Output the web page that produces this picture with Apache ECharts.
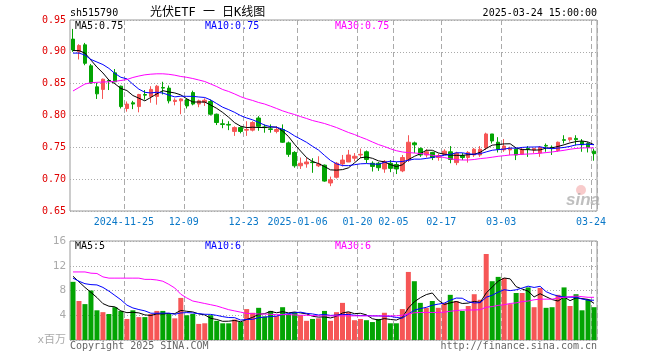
<!DOCTYPE html>
<html><head><meta charset="utf-8">
<script src="https://cdn.jsdelivr.net/npm/echarts@6/dist/echarts.min.js"></script>
<style>html,body{margin:0;padding:0;background:#fff}#c{width:660px;height:360px}</style>
</head><body><div id="c"></div>
<script>
const dates = ['2024-11-12','2024-11-13','2024-11-14','2024-11-15','2024-11-18','2024-11-19','2024-11-20','2024-11-21','2024-11-22','2024-11-25','2024-11-26','2024-11-27','2024-11-28','2024-11-29','2024-12-02','2024-12-03','2024-12-04','2024-12-05','2024-12-06','2024-12-09','2024-12-10','2024-12-11','2024-12-12','2024-12-13','2024-12-16','2024-12-17','2024-12-18','2024-12-19','2024-12-20','2024-12-23','2024-12-24','2024-12-25','2024-12-26','2024-12-27','2024-12-30','2024-12-31','2025-01-02','2025-01-03','2025-01-06','2025-01-07','2025-01-08','2025-01-09','2025-01-10','2025-01-13','2025-01-14','2025-01-15','2025-01-16','2025-01-17','2025-01-20','2025-01-21','2025-01-22','2025-01-23','2025-01-24','2025-01-27','2025-02-05','2025-02-06','2025-02-07','2025-02-10','2025-02-11','2025-02-12','2025-02-13','2025-02-14','2025-02-17','2025-02-18','2025-02-19','2025-02-20','2025-02-21','2025-02-24','2025-02-25','2025-02-26','2025-02-27','2025-02-28','2025-03-03','2025-03-04','2025-03-05','2025-03-06','2025-03-07','2025-03-10','2025-03-11','2025-03-12','2025-03-13','2025-03-14','2025-03-17','2025-03-18','2025-03-19','2025-03-20','2025-03-21','2025-03-24'];
const opens = [0.920,0.900,0.911,0.878,0.845,0.841,0.855,0.867,0.846,0.811,0.820,0.814,0.833,0.830,0.830,0.844,0.843,0.822,0.823,0.825,0.836,0.818,0.821,0.822,0.802,0.787,0.786,0.775,0.781,0.777,0.777,0.796,0.782,0.779,0.775,0.778,0.757,0.742,0.721,0.724,0.727,0.721,0.722,0.694,0.703,0.724,0.727,0.733,0.738,0.743,0.725,0.725,0.716,0.725,0.723,0.713,0.730,0.757,0.748,0.738,0.742,0.734,0.739,0.743,0.726,0.737,0.734,0.738,0.738,0.749,0.771,0.758,0.746,0.746,0.747,0.739,0.748,0.746,0.741,0.753,0.750,0.745,0.762,0.762,0.764,0.759,0.756,0.744];
const closes = [0.903,0.910,0.882,0.851,0.834,0.857,0.854,0.853,0.814,0.818,0.818,0.833,0.832,0.841,0.846,0.843,0.823,0.824,0.826,0.815,0.818,0.823,0.824,0.802,0.789,0.786,0.785,0.781,0.775,0.778,0.789,0.783,0.781,0.778,0.778,0.758,0.739,0.721,0.725,0.727,0.726,0.724,0.697,0.699,0.725,0.730,0.738,0.736,0.739,0.731,0.720,0.718,0.728,0.717,0.716,0.734,0.758,0.754,0.738,0.743,0.734,0.737,0.744,0.731,0.741,0.734,0.742,0.747,0.747,0.771,0.760,0.747,0.752,0.748,0.738,0.747,0.747,0.748,0.750,0.752,0.749,0.758,0.761,0.765,0.762,0.754,0.750,0.740];
const lows = [0.900,0.888,0.879,0.850,0.826,0.826,0.840,0.852,0.811,0.806,0.810,0.805,0.825,0.820,0.817,0.833,0.819,0.816,0.802,0.811,0.816,0.813,0.815,0.800,0.785,0.780,0.777,0.768,0.772,0.768,0.775,0.776,0.773,0.773,0.772,0.757,0.735,0.718,0.716,0.718,0.710,0.719,0.696,0.689,0.701,0.720,0.727,0.728,0.733,0.725,0.712,0.713,0.710,0.711,0.708,0.711,0.727,0.741,0.735,0.734,0.730,0.729,0.738,0.725,0.722,0.730,0.726,0.735,0.735,0.746,0.756,0.742,0.743,0.738,0.730,0.738,0.735,0.741,0.735,0.743,0.738,0.743,0.756,0.759,0.753,0.743,0.742,0.729];
const highs = [0.936,0.912,0.914,0.881,0.851,0.858,0.857,0.873,0.847,0.822,0.823,0.834,0.840,0.846,0.848,0.853,0.847,0.827,0.827,0.827,0.839,0.825,0.827,0.825,0.803,0.794,0.791,0.783,0.783,0.791,0.791,0.799,0.786,0.786,0.783,0.786,0.759,0.744,0.734,0.734,0.733,0.736,0.723,0.704,0.727,0.738,0.746,0.741,0.748,0.745,0.728,0.727,0.730,0.730,0.727,0.738,0.769,0.759,0.750,0.747,0.743,0.740,0.747,0.752,0.743,0.741,0.744,0.749,0.752,0.773,0.771,0.766,0.763,0.751,0.748,0.750,0.752,0.749,0.752,0.756,0.753,0.759,0.769,0.765,0.769,0.763,0.758,0.748];
const volumes = [9.4,6.3,5.8,8.0,4.8,4.5,4.2,5.3,4.7,3.4,4.8,3.7,3.7,4.2,4.7,4.7,4.2,3.5,6.8,4.0,4.2,2.6,2.7,4.0,3.1,2.7,2.7,3.3,2.9,5.0,4.4,5.2,3.8,4.7,3.9,5.3,4.2,4.5,4.0,3.1,3.4,3.5,4.7,3.1,4.5,6.0,4.5,3.2,3.4,3.2,2.9,3.4,4.4,2.7,2.7,5.0,11.0,9.5,6.0,5.2,6.3,5.2,6.0,7.3,6.3,4.7,5.5,7.4,6.5,13.9,9.5,10.2,10.0,5.8,7.6,7.6,8.5,5.3,8.4,5.2,5.3,7.3,8.5,5.5,7.4,4.8,6.6,5.3];
// moving-average values before enough history exists
const priceMA5Head = [0.902,0.902,0.898,0.887];
const priceMA10Head = [0.898,0.898,0.895,0.888,0.884,0.880,0.874,0.866,0.860];
const priceMA30 = [0.8385,0.844,0.8495,0.8515,0.8521,0.8526,0.8529,0.8537,0.855,0.8565,0.8597,0.862,0.8639,0.8649,0.8655,0.8655,0.8647,0.8633,0.8613,0.86,0.8581,0.8558,0.8534,0.8495,0.8455,0.8408,0.8377,0.8338,0.8295,0.8262,0.8236,0.8204,0.818,0.8146,0.811,0.8073,0.8042,0.8015,0.7983,0.7953,0.7921,0.7898,0.7874,0.7843,0.7811,0.7772,0.7733,0.7701,0.7662,0.7626,0.7584,0.7544,0.7513,0.7477,0.7447,0.7427,0.7417,0.7411,0.7403,0.7391,0.7375,0.7359,0.734,0.732,0.7306,0.7301,0.7301,0.7309,0.7323,0.7332,0.7345,0.7359,0.7369,0.738,0.7384,0.7391,0.7395,0.74,0.7408,0.7417,0.7427,0.744,0.7453,0.747,0.7482,0.749,0.7493,0.749];
const volMA5Head = [10.3,9.4,8.5,7.7];
const volMA10Head = [10.0,9.5,9.1,8.95,8.9,8.5,7.9,7.2,6.5];
const volMA30 = [11.0,11.0,11.0,10.8,10.75,10.2,10.0,10.0,10.0,10.0,10.0,10.0,9.8,9.8,9.7,9.5,9.0,8.4,7.4,6.8,6.3,6.1,5.9,5.7,5.5,5.2,4.9,4.7,4.5,4.3,4.25,4.2,4.2,4.15,4.1,4.1,4.1,4.05,4.0,4.0,3.95,3.9,3.9,3.9,3.9,3.9,3.9,3.9,3.9,3.9,3.9,3.9,3.9,3.9,3.9,4.0,4.2,4.4,4.45,4.45,4.45,4.45,4.5,4.65,4.75,4.85,4.85,4.85,4.9,5.3,5.4,5.6,5.7,5.9,6.0,6.2,6.3,6.5,6.6,6.6,6.6,6.8,6.9,7.0,7.1,7.0,6.9,6.9];
const labelDates = ['2024-11-25','2024-12-09','2024-12-23','2025-01-06','2025-01-20','2025-02-05','2025-02-17','2025-03-03','2025-03-24'];
const labelTexts = ['2024-11-25','12-09','12-23','2025-01-06','01-20','02-05','02-17','03-03','03-24'];
const symbolText = 'sh515790';
const titleText = '光伏ETF 一 日K线图';
const timeText = '2025-03-24 15:00:00';

function ma(values, n, head) {
  return values.map((v, i) => i < n - 1 ? head[i] :
    +(values.slice(i - n + 1, i + 1).reduce((a, b) => a + b, 0) / n).toFixed(4));
}
const pMA5 = ma(closes, 5, priceMA5Head), pMA10 = ma(closes, 10, priceMA10Head);
const vMA5 = ma(volumes, 5, volMA5Head), vMA10 = ma(volumes, 10, volMA10Head);
const last = a => a[a.length - 1];
const UP = '#f65656', DOWN = '#03a403';
const labelIdx = labelDates.map(d => dates.indexOf(d));
const showIdx = i => labelIdx.indexOf(i) >= 0;
const MONO = "'DejaVu Sans Mono', monospace";
const dashed = { show: true, interval: showIdx, lineStyle: { color: '#aaa', type: [5, 3], width: 1 } };
const dotted = { show: true, lineStyle: { color: '#aaa', type: [1, 2], width: 1 } };
const candle = dates.map((d, i) => [opens[i], closes[i], lows[i], highs[i]]);
const volData = volumes.map((v, i) => ({ value: v, itemStyle: { color: closes[i] >= opens[i] ? UP : DOWN } }));

function txt(text, x, y, fill, opts) {
  return Object.assign({ type: 'text', silent: true, style: Object.assign({ text, x, y, fill, font: '10px ' + MONO, textVerticalAlign: 'middle' }, opts || {}) });
}
const lineS = (data, color, xi) => ({ type: 'line', data, xAxisIndex: xi, yAxisIndex: xi, showSymbol: false, symbol: 'none', lineStyle: { width: 1, color }, itemStyle: { color }, silent: true, z: 5 });

const chart = echarts.init(document.getElementById('c'), null, { renderer: 'canvas' });
chart.setOption({
  animation: false,
  backgroundColor: '#fff',
  grid: [
    { left: 70, top: 20, width: 527, height: 191, show: true, borderColor: '#999', borderWidth: 1, outerBoundsMode: 'none' },
    { left: 70, top: 241, width: 527, height: 99, show: true, borderColor: '#999', borderWidth: 1, outerBoundsMode: 'none' }
  ],
  xAxis: [
    { type: 'category', gridIndex: 0, data: dates, boundaryGap: true, axisLine: { show: false }, axisTick: { show: false },
      axisLabel: { interval: showIdx, formatter: v => labelTexts[labelDates.indexOf(v)], color: '#0a78c8', fontFamily: MONO, fontSize: 10, margin: 6, padding: [0, 6, 0, 0] },
      splitLine: dashed },
    { type: 'category', gridIndex: 1, data: dates, boundaryGap: true, axisLine: { show: false }, axisTick: { show: false }, axisLabel: { show: false }, splitLine: dashed }
  ],
  yAxis: [
    { type: 'value', gridIndex: 0, min: 0.65, max: 0.95, interval: 0.05, axisLine: { show: false }, axisTick: { show: false },
      axisLabel: { formatter: v => v.toFixed(2), color: '#e00000', fontFamily: MONO, fontSize: 10, margin: 4 }, splitLine: dotted },
    { type: 'value', gridIndex: 1, min: 0, max: 16, interval: 4, axisLine: { show: false }, axisTick: { show: false },
      axisLabel: { formatter: v => v === 0 ? 'x百万' : String(v), color: '#aaa', fontFamily: MONO + ", 'Noto Sans CJK SC'", fontSize: 11, margin: 4 }, splitLine: dotted }
  ],
  series: [
    { type: 'candlestick', data: candle, xAxisIndex: 0, yAxisIndex: 0, barWidth: 4, silent: true,
      itemStyle: { color: UP, color0: DOWN, borderColor: UP, borderColor0: DOWN, borderWidth: 1 } },
    lineS(pMA5, '#000', 0), lineS(pMA10, '#0000ff', 0), lineS(priceMA30, '#ff00ff', 0),
    { type: 'bar', data: volData, xAxisIndex: 1, yAxisIndex: 1, barWidth: 5, silent: true },
    lineS(vMA5, '#000', 1), lineS(vMA10, '#0000ff', 1), lineS(volMA30, '#ff00ff', 1)
  ],
  graphic: [
    txt(symbolText, 70, 13, '#000'),
    txt(titleText, 150, 13, '#000', { font: "12px 'DejaVu Sans Mono', 'Noto Sans CJK SC'" }),
    txt(timeText, 597, 13, '#000', { textAlign: 'right' }),
    txt('MA5:' + last(pMA5).toFixed(2), 75, 26, '#000'),
    txt('MA10:' + last(pMA10).toFixed(2), 205, 26, '#0000ff'),
    txt('MA30:' + last(priceMA30).toFixed(2), 335, 26, '#ff00ff'),
    txt('MA5:' + Math.floor(last(vMA5)), 75, 246, '#000'),
    txt('MA10:' + Math.floor(last(vMA10)), 205, 246, '#0000ff'),
    txt('MA30:' + Math.floor(last(volMA30)), 335, 246, '#ff00ff'),
    txt('Copyright 2025 SINA.COM', 70, 346, '#666'),
    txt('http://finance.sina.com.cn', 597, 346, '#666', { textAlign: 'right' }),
    { type: 'circle', silent: true, shape: { cx: 581, cy: 190, r: 5 }, style: { fill: 'rgba(240,140,140,0.45)' } },
    txt('sina', 566, 200, 'rgba(170,170,170,0.75)', { font: 'italic bold 17px Arial, sans-serif' })
  ]
});
</script></body></html>
